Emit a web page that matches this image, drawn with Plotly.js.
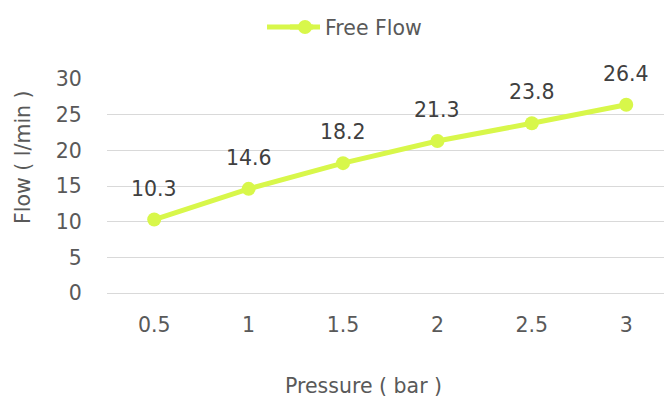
<!DOCTYPE html>
<html><head><meta charset="utf-8">
<script src="https://cdn.plot.ly/plotly-3.0.1.min.js"></script>
<style>html,body{margin:0;padding:0;background:#fff}#c{width:664px;height:400px}</style>
</head><body><div id="c"></div>
<script>
const pressure = ['0.5','1','1.5','2','2.5','3'];
const freeFlow = [10.3, 14.6, 18.2, 21.3, 23.8, 26.4];
const seriesName = 'Free Flow';
const xTitle = 'Pressure ( bar )';
const yTitle = 'Flow ( l/min )';

const font = 'DejaVu Sans, sans-serif';
const green = '#d8f74a';
const grey = '#595959';
const fs = 20.5;

const trace = {
  x: pressure, y: freeFlow, type: 'scatter', mode: 'lines+markers', name: seriesName,
  line: {color: green, width: 5},
  marker: {color: green, size: 14},
  cliponaxis: false
};

const annotations = pressure.map((p, i) => ({
  x: i, y: freeFlow[i], text: freeFlow[i].toFixed(1), showarrow: false,
  yshift: 31, font: {family: font, size: fs, color: '#404040'}
}));
annotations.push({
  xref: 'paper', yref: 'paper', x: 0.4614, y: -0.4346, xanchor: 'center', yanchor: 'middle',
  text: xTitle, showarrow: false, font: {family: font, size: fs, color: grey}
});
annotations.push({
  xref: 'paper', yref: 'paper', x: -0.1508, y: 0.6355, xanchor: 'center', yanchor: 'middle',
  text: yTitle, textangle: -90, showarrow: false, font: {family: font, size: fs, color: grey}
});

const layout = {
  width: 664, height: 400,
  margin: {l: 107, r: 0, t: 79, b: 107},
  paper_bgcolor: '#fff', plot_bgcolor: '#fff',
  font: {family: font, size: fs, color: grey},
  showlegend: true,
  legend: {orientation: 'h', x: 0.3196, xanchor: 'left', y: 0.932, yanchor: 'middle', yref: 'container',
           bgcolor: 'rgba(0,0,0,0)', font: {family: font, size: fs, color: grey}},
  shapes: [{type: 'line', xref: 'paper', yref: 'paper', x0: 0.2873, x1: 0.37, y0: 1.243, y1: 1.243,
            line: {color: green, width: 5}, layer: 'above'}],
  xaxis: {type: 'category', range: [-0.5, 5.4], showgrid: false, zeroline: false,
          showline: true, linecolor: '#d9d9d9', linewidth: 1,
          ticks: 'outside', ticklen: 13, tickcolor: 'rgba(0,0,0,0)'},
  yaxis: {range: [0, 30], dtick: 5, showgrid: true, gridcolor: '#d9d9d9', gridwidth: 1, zeroline: false,
          ticks: 'outside', ticklen: 20, tickcolor: 'rgba(0,0,0,0)'},
  annotations: annotations
};
Plotly.newPlot('c', [trace], layout, {displayModeBar: false, staticPlot: true});
</script></body></html>
